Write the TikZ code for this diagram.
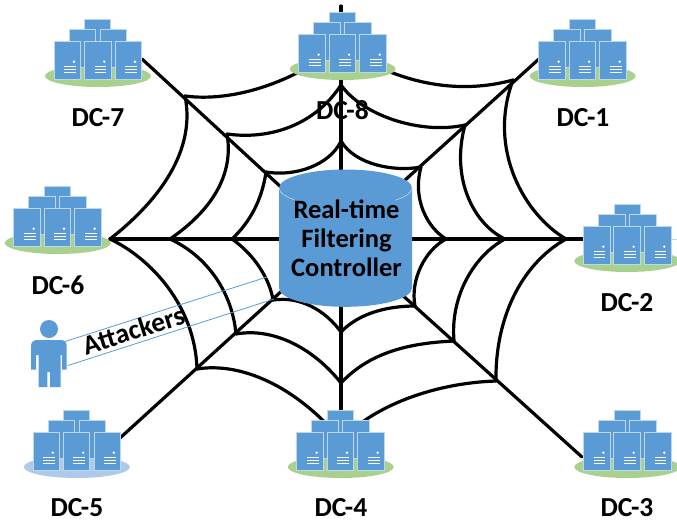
\documentclass[tikz,border=0pt]{standalone}
\usepackage{fontspec}
\setmainfont{Carlito}
\definecolor{srv}{HTML}{5B9BD5}
\definecolor{srvedge}{HTML}{BDD7EE}
\definecolor{grn}{HTML}{A9D18E}
\definecolor{lblue}{HTML}{ADCBE9}
\tikzset{
  x=1pt,y=-1pt,
  web/.style={line width=3.2pt,black,line cap=round,line join=round},
  box/.style={fill=srv,draw=srvedge,line width=0.6pt},
  slot/.style={draw=white,line width=0.8pt},
  dclabel/.style={font=\bfseries\fontsize{27.5}{29}\selectfont,text=black,inner sep=0pt},
  ctltext/.style={font=\bfseries\fontsize{26.5}{29}\selectfont,text=black,align=center,inner sep=0pt},
  atk/.style={draw=srv,line width=0.8pt},
  pics/datacenter/.style={code={
    \fill[#1] (0,0) ellipse [x radius=53,y radius=11];
    \path[box] (-13.5,-57) rectangle (12.7,-9);
    \path[box] (-29,-46.7) rectangle (-2.5,-9);
    \path[box] (2,-46.7) rectangle (28.7,-9);
    \foreach \xx in {-44,-13.7,17}{
      \path[box] (\xx,-34.3) rectangle ++(26.5,37.4);
      \fill[white] (\xx+20,-14.3) circle (1.3);
      \foreach \yy in {-9.3,-6.3,-3.3}{
        \draw[slot] (\xx+10.3,\yy) -- (\xx+22,\yy);
      }
    }
  }}
}
\begin{document}
\begin{tikzpicture}
\useasboundingbox (0,0) rectangle (677,523);
\fill[white] (0,0) rectangle (677,523);
% spoke end points
\coordinate (e7) at (142,59);
\coordinate (e8) at (341,6);
\coordinate (e1) at (540,58);
\coordinate (e6) at (110,239);
\coordinate (e2) at (583,239);
\coordinate (e5) at (120,438);
\coordinate (e4) at (341,410);
\coordinate (e3) at (582,457);
\coordinate (h7) at (282,188);
\coordinate (h8) at (341,175);
\coordinate (h1) at (404,181);
\coordinate (h6) at (285,239);
\coordinate (h2) at (405,239);
\coordinate (h5) at (285,288);
\coordinate (h4) at (341,300);
\coordinate (h3) at (400,293);
% ring junctions: outer, middle, inner
\coordinate (o7) at (185,96);  \coordinate (m7) at (227,134); \coordinate (i7) at (266,172);
\coordinate (o8) at (341,45);  \coordinate (m8) at (341,85);  \coordinate (i8) at (341,141);
\coordinate (o1) at (513,80);  \coordinate (m1) at (465,125); \coordinate (i1) at (421,167);
\coordinate (o2) at (566,239); \coordinate (m2) at (505,239); \coordinate (i2) at (446,239);
\coordinate (o3) at (496,381); \coordinate (m3) at (454,341); \coordinate (i3) at (415,306);
\coordinate (o4) at (341,440); \coordinate (m4) at (341,383); \coordinate (i4) at (341,332);
\coordinate (o5) at (197,369); \coordinate (m5) at (236,334); \coordinate (i5) at (273,300);
\coordinate (o6) at (110,239); \coordinate (m6) at (170,239); \coordinate (i6) at (232,239);
% spokes
\draw[web] (e7) -- (h7);
\draw[web] (e8) -- (h8);
\draw[web] (e1) -- (h1);
\draw[web] (e6) -- (h6);
\draw[web] (e2) -- (h2);
\draw[web] (e5) -- (h5);
\draw[web] (e4) -- (h4);
\draw[web] (e3) -- (h3);
% rings
\draw[web] (o7) .. controls (230,102) and (290,85) .. (o8);
\draw[web] (o8) .. controls (375,70) and (440,100) .. (o1);
\draw[web] (o1) .. controls (487,150) and (525,215) .. (o2);
\draw[web] (o2) .. controls (520,265) and (495,320) .. (o3);
\draw[web] (o3) .. controls (435,383) and (375,405) .. (o4);
\draw[web] (o4) .. controls (295,385) and (240,362) .. (o5);
\draw[web] (o5) .. controls (195,305) and (150,258) .. (o6);
\draw[web] (o6) .. controls (160,200) and (196,150) .. (o7);
\draw[web] (m7) .. controls (270,140) and (315,125) .. (m8);
\draw[web] (m8) .. controls (362,115) and (420,135) .. (m1);
\draw[web] (m1) .. controls (450,180) and (475,225) .. (m2);
\draw[web] (m2) .. controls (475,255) and (450,295) .. (m3);
\draw[web] (m3) .. controls (410,343) and (370,352) .. (m4);
\draw[web] (m4) .. controls (315,350) and (275,327) .. (m5);
\draw[web] (m5) .. controls (232,290) and (205,255) .. (m6);
\draw[web] (m6) .. controls (205,215) and (235,180) .. (m7);
\draw[web] (i7) .. controls (295,177) and (330,165) .. (i8);
\draw[web] (i8) .. controls (355,165) and (395,172) .. (i1);
\draw[web] (i1) .. controls (412,200) and (428,228) .. (i2);
\draw[web] (i2) .. controls (425,250) and (410,280) .. (i3);
\draw[web] (i3) .. controls (390,306) and (360,312) .. (i4);
\draw[web] (i4) .. controls (325,310) and (300,296) .. (i5);
\draw[web] (i5) .. controls (270,280) and (255,255) .. (i6);
\draw[web] (i6) .. controls (250,222) and (262,200) .. (i7);
% attackers' lines
\coordinate (a1) at (65,341.5); \coordinate (b1) at (267,277);
\coordinate (a2) at (68,365.5); \coordinate (b2) at (274,299);
% controller cylinder
\fill[srv] (279,188) .. controls (279,177.8) and (309,169.5) .. (345.5,169.5)
  .. controls (382,169.5) and (412,177.8) .. (412,188)
  -- (412,288) .. controls (412,298.5) and (382,306.8) .. (345.5,306.8)
  .. controls (309,306.8) and (279,298.5) .. (279,288) -- cycle;
\begin{scope}
  \clip (279,180) rectangle (294,210) (395,180) rectangle (412,210);
  \draw[srvedge,line width=0.6pt] (279,188) .. controls (279,198) and (309,206.5) .. (345.5,206.5)
    .. controls (382,206.5) and (412,198) .. (412,188);
\end{scope}
\node[ctltext] (ctl) at (346.5,238.5) {Real-time\\Filtering\\Controller};
\draw[atk] (a1) -- (b1);
\draw[atk] (a2) -- (b2);
\coordinate (t2) at (671,239); \coordinate (t3) at (677,239);
\draw[srvedge,line width=0.7pt] (t2) -- (t3);
% data centres
\pic (dc7) at (98,76) {datacenter=grn};
\pic (dc8) at (342.7,69) {datacenter=grn};
\pic (dc1) at (582.7,76) {datacenter=grn};
\pic (dc6) at (57.7,243) {datacenter=grn};
\pic (dc2) at (627.3,261) {datacenter=grn};
\pic (dc5) at (76.8,467) {datacenter=lblue};
\pic (dc4) at (340.7,467) {datacenter=grn};
\pic (dc3) at (627.3,467) {datacenter=grn};
\node[dclabel] (l7) at (98,117.5) {DC-7};
\node[dclabel] (l8) at (342.5,110) {DC-8};
\node[dclabel] (l1) at (583,117.5) {DC-1};
\node[dclabel] (l6) at (58,285) {DC-6};
\node[dclabel] (l2) at (627,303) {DC-2};
\node[dclabel] (l5) at (77,508) {DC-5};
\node[dclabel] (l4) at (341,508) {DC-4};
\node[dclabel] (l3) at (627,508) {DC-3};
% attacker figure
\fill[srv] (49,329) circle (9);
\fill[srv] (37,340) -- (61,340) .. controls (64.5,340) and (66.7,342.5) .. (66.7,346)
  -- (66.7,369.5) -- (62,369.5) -- (62,355) -- (60.5,355) -- (60.5,387) -- (50,387) -- (50,372)
  -- (47.3,372) -- (47.3,387) -- (38.5,387) -- (38.5,355) -- (36,355) -- (36,369.5) -- (31,369.5)
  -- (31,346) .. controls (31,342.5) and (33.5,340) .. (37,340) -- cycle;
\node[font=\bfseries\fontsize{27.5}{29}\selectfont,inner sep=0pt,rotate=17.6] (atk) at (133.5,330) {Attackers};
\end{tikzpicture}
\end{document}
